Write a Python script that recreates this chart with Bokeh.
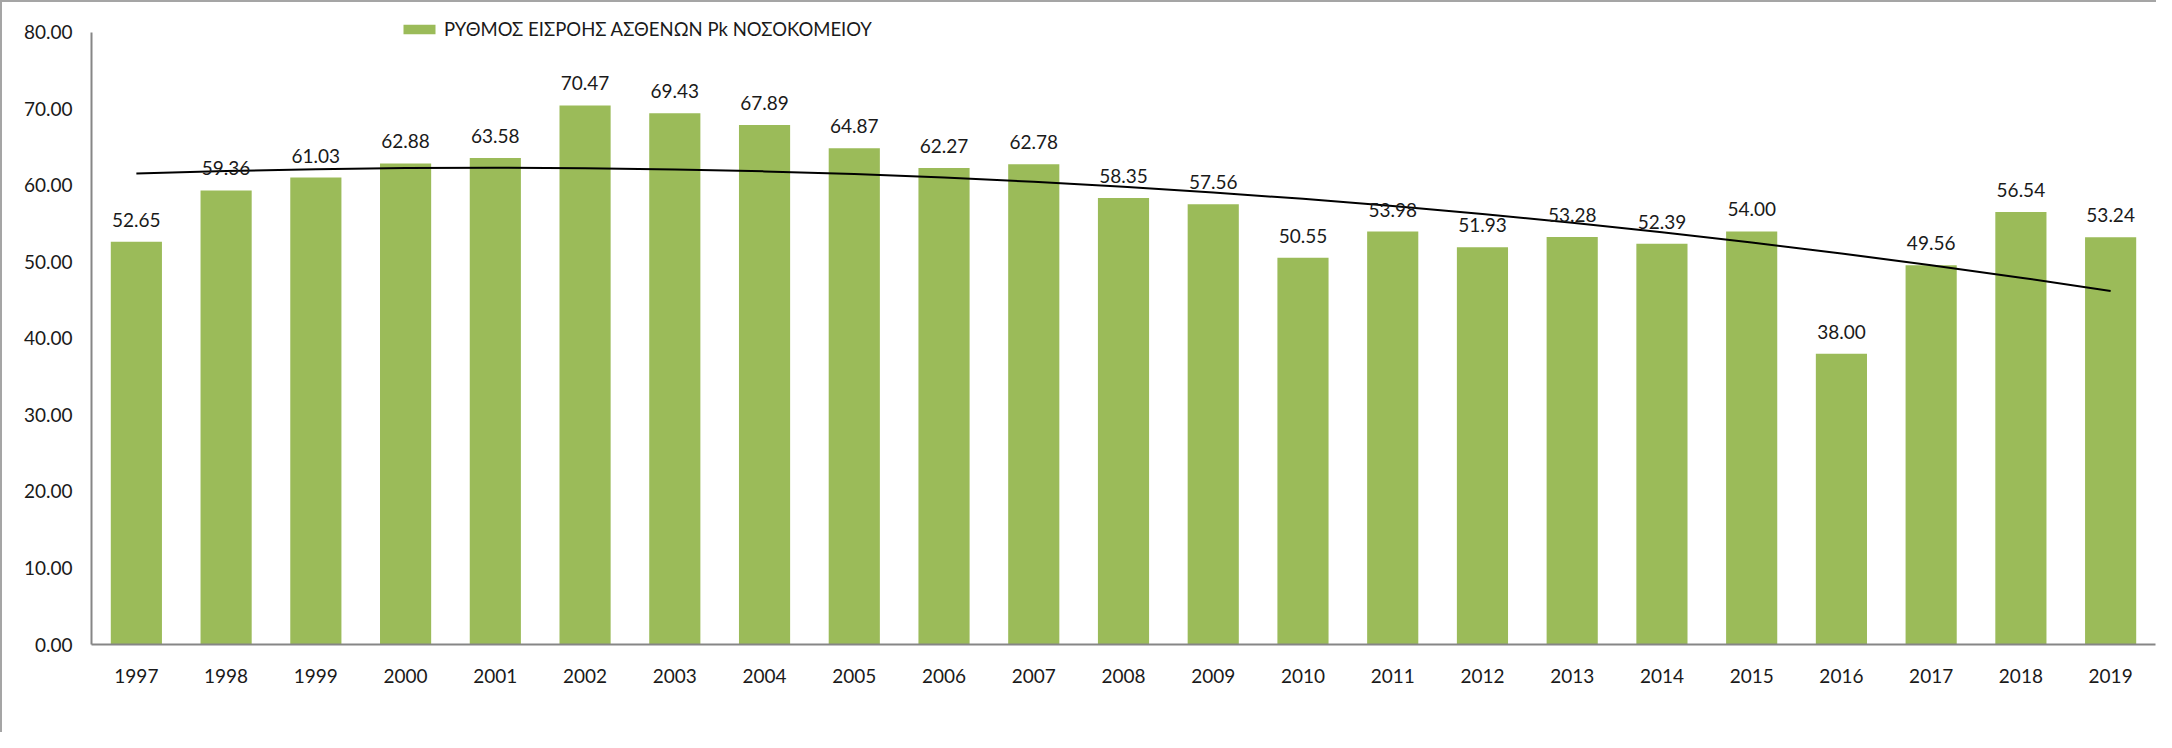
import numpy as np
from bokeh.plotting import figure
from bokeh.models import (ColumnDataSource, Range1d, FactorRange, FixedTicker,
                          NumeralTickFormatter, Legend, LegendItem, LabelSet)
from bokeh.core.properties import value
from bokeh.embed import file_html
from bokeh.resources import INLINE

years = [str(y) for y in range(1997, 2020)]
values = [52.65, 59.36, 61.03, 62.88, 63.58, 70.47, 69.43, 67.89, 64.87, 62.27,
          62.78, 58.35, 57.56, 50.55, 53.98, 51.93, 53.28, 52.39, 54.00, 38.00,
          49.56, 56.54, 53.24]
series_name = "ΡΥΘΜΟΣ ΕΙΣΡΟΗΣ ΑΣΘΕΝΩΝ Pk ΝΟΣΟΚΟΜΕΙΟΥ"
y_ticks = [0, 10, 20, 30, 40, 50, 60, 70, 80]
y_axis_max = 80

# polynomial (order 2) trendline fitted to the series, as in the source chart
idx = np.arange(len(values))
coef = np.polyfit(idx, values, 2)
trend = np.polyval(coef, idx)

FONT = "Lato"
BAR = "#9BBB59"
AXIS = "#868686"

src = ColumnDataSource(dict(x=years, y=values, lbl=[f"{v:.2f}" for v in values],
                            t=trend))

# frame extends a little above 80 so the legend (which sits above the axis top)
# is not clipped; the axis line itself stops at 80
p = figure(width=2156, height=732, x_range=FactorRange(*years, range_padding=0),
           y_range=Range1d(0, 82.35), output_backend="svg", toolbar_location=None,
           min_border_left=89, min_border_right=3, min_border_top=12,
           min_border_bottom=90)
p.styles = {"border-left": "2px solid #a5a5a5", "border-top": "2px solid #a5a5a5"}
p.outline_line_color = None
p.grid.grid_line_color = None

bars = p.vbar(x="x", top="y", width=0.57, source=src, fill_color=BAR,
              line_color=None)
p.line(x="x", y="t", source=src, line_color="black", line_width=2)

labels = LabelSet(x="x", y="y", text="lbl", source=src, text_align="center",
                  text_baseline="alphabetic", y_offset=15,
                  text_font=value(FONT), text_font_size="19px",
                  text_color="#1a1a1a")
p.add_layout(labels)

p.yaxis.ticker = FixedTicker(ticks=y_ticks)
p.yaxis.bounds = (0, y_axis_max)
p.yaxis.formatter = NumeralTickFormatter(format="0.00")
for ax in (p.xaxis, p.yaxis):
    ax.axis_line_color = AXIS
    ax.axis_line_width = 2
    ax.major_tick_line_color = None
    ax.minor_tick_line_color = None
    ax.major_label_text_font = FONT
    ax.major_label_text_font_size = "19px"
    ax.major_label_text_color = "#1a1a1a"
p.yaxis.major_label_standoff = 13
p.xaxis.major_label_standoff = 18

legend = Legend(items=[LegendItem(label=series_name, renderers=[bars])],
                location=(308, 604), orientation="horizontal",
                glyph_width=40, glyph_height=12, label_standoff=5,
                padding=0, margin=0, border_line_color=None,
                background_fill_alpha=0, label_text_font=FONT,
                label_text_font_size="18.5px", label_text_color="#1a1a1a")
p.add_layout(legend, "center")

open("out.html", "w").write(file_html(p, INLINE))
